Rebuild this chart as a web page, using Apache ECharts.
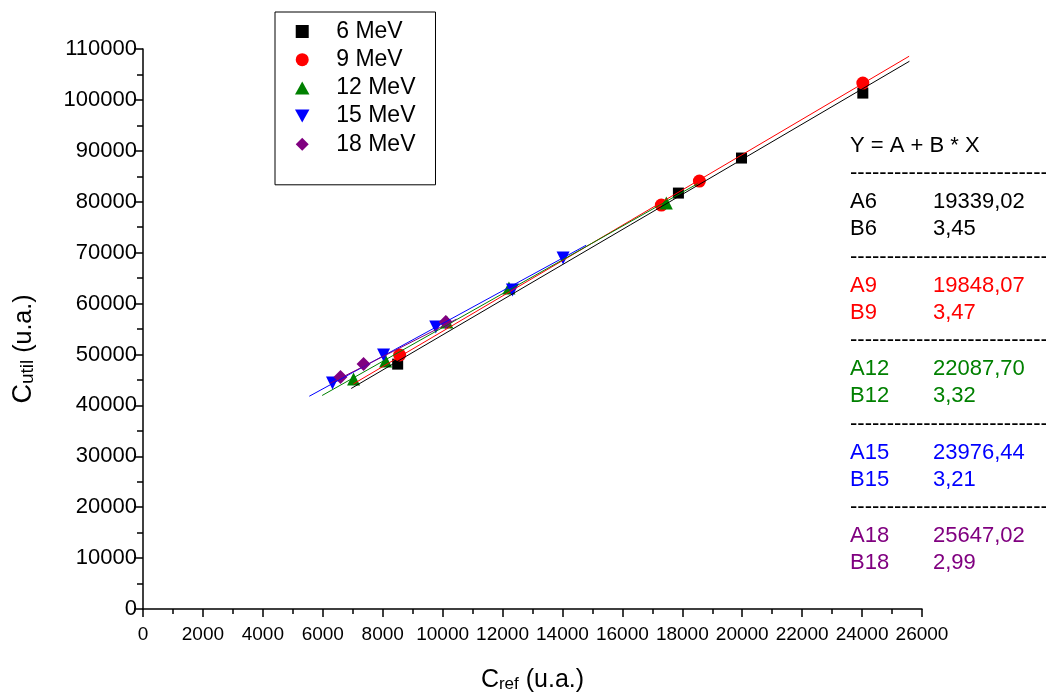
<!DOCTYPE html>
<html>
<head>
<meta charset="utf-8">
<script src="https://cdn.jsdelivr.net/npm/echarts@6/dist/echarts.min.js"></script>
<style>
html,body{margin:0;padding:0;background:#fff;}
#chart{width:1046px;height:692px;}
</style>
</head>
<body>
<div id="chart"></div>
<script>
// ---- data ----
const seriesNames = ['6 MeV', '9 MeV', '12 MeV', '15 MeV', '18 MeV'];
const seriesColors = ['#000000', '#ff0000', '#008000', '#0000ff', '#800080'];
const data6  = [[8500, 48100], [17870, 81700], [19975, 88580], [24025, 101340]];
const data9  = [[8566, 49890], [17300, 79350], [18570, 84060], [24025, 103300]];
const data12 = [[7027, 45170], [8097, 48710], [10140, 56370], [12213, 63040], [17466, 79740]];
const data15 = [[6324, 44390], [8030, 49890], [9770, 55390], [12330, 62650], [14020, 68940]];
const data18 = [[6592, 45570], [7361, 48120], [10105, 56370]];
// fit coefficients as printed on the chart
const fitA = [19339.02, 19848.07, 22087.70, 23976.44, 25647.02];
const fitB = [3.45, 3.47, 3.32, 3.21, 2.99];
const fitALabels = ['19339,02', '19848,07', '22087,70', '23976,44', '25647,02'];
const fitBLabels = ['3,45', '3,47', '3,32', '3,21', '2,99'];
const fitTags = ['6', '9', '12', '15', '18'];
// x-range over which each fit line is drawn
const fitRanges = [[6950, 25580], [7020, 25570], [5980, 18510], [5550, 14790], [6240, 10460]];
const xTicks = { min: 0, max: 26000, interval: 2000 };
const yTicks = { min: 0, max: 110000, interval: 10000 };

const allData = [data6, data9, data12, data15, data18];
const symbols = ['rect', 'circle', 'triangle', 'triangle', 'diamond'];
const symbolRot = [0, 0, 0, 180, 0];
const symbolSizes = [11, 13, 13, 13, 14];
const legendIcons = [
  'path://M0,0 L10,0 L10,10 L0,10 Z',
  'path://M5,0 A5,5 0 1,1 5,10 A5,5 0 1,1 5,0 Z',
  'path://M5,0 L10,9 L0,9 Z',
  'path://M0,0 L10,0 L5,9 Z',
  'path://M5,0 L10,5 L5,10 L0,5 Z'
];

const chart = echarts.init(document.getElementById('chart'), null, { renderer: 'canvas' });

const series = [];
allData.forEach((d, i) => {
  series.push({
    name: seriesNames[i],
    type: 'scatter',
    data: d,
    symbol: symbols[i],
    symbolRotate: symbolRot[i],
    symbolSize: symbolSizes[i],
    itemStyle: { color: seriesColors[i], opacity: 1 },
    z: 2,
    emphasis: { disabled: true }
  });
});
fitRanges.forEach((r, i) => {
  series.push({
    name: 'fit' + fitTags[i],
    type: 'line',
    data: r.map(x => [x, fitA[i] + fitB[i] * x]),
    showSymbol: false,
    symbol: 'none',
    lineStyle: { color: seriesColors[i], width: 1 },
    z: 3,
    silent: true
  });
});

const baseFont = '"Liberation Sans", Arial, sans-serif';

// annotation block (right side)
const graphics = [];
const annX = 850, valX = 933;
const annFont = '22px ' + baseFont;
graphics.push({ type: 'text', left: annX, top: 135, style: { text: 'Y = A + B * X', font: annFont, fill: '#000' } });
const dashStr = '--------------------------------';
let y0 = 162;
for (let i = 0; i < 5; i++) {
  const top = y0 + i * 83.6;
  graphics.push({ type: 'text', left: annX, top: top, style: { text: dashStr, font: annFont, fill: '#000' } });
  graphics.push({ type: 'text', left: annX, top: top + 29, style: { text: 'A' + fitTags[i], font: annFont, fill: seriesColors[i] } });
  graphics.push({ type: 'text', left: valX, top: top + 29, style: { text: fitALabels[i], font: annFont, fill: seriesColors[i] } });
  graphics.push({ type: 'text', left: annX, top: top + 56, style: { text: 'B' + fitTags[i], font: annFont, fill: seriesColors[i] } });
  graphics.push({ type: 'text', left: valX, top: top + 56, style: { text: fitBLabels[i], font: annFont, fill: seriesColors[i] } });
}

const option = {
  backgroundColor: '#ffffff',
  animation: false,
  grid: { left: 143, right: 124, top: 49, bottom: 83, containLabel: false, outerBoundsMode: 'none' },
  legend: {
    left: 275, top: 12,
    orient: 'vertical',
    borderColor: '#000', borderWidth: 1,
    padding: [8, 20, 29, 20],
    itemWidth: 58, itemHeight: 13, itemGap: 5.2,
    textStyle: { fontSize: 23, fontFamily: baseFont, color: '#000', lineHeight: 20 },
    data: seriesNames.map((n, i) => ({ name: n, icon: legendIcons[i], itemStyle: { color: seriesColors[i] } })),
    selectedMode: false
  },
  xAxis: {
    type: 'value',
    min: xTicks.min, max: xTicks.max, interval: xTicks.interval,
    name: '{big|C}{small|ref}{big| (u.a.)}',
    nameLocation: 'middle', nameGap: 57,
    nameTextStyle: {
      rich: {
        big: { fontSize: 25, fontFamily: baseFont, color: '#000', lineHeight: 27, verticalAlign: 'bottom' },
        small: { fontSize: 17, fontFamily: baseFont, color: '#000', lineHeight: 19, verticalAlign: 'bottom' }
      }
    },
    axisLine: { show: true, onZero: false, lineStyle: { color: '#000', width: 1.5 } },
    axisTick: { show: true, inside: false, length: 8, lineStyle: { color: '#000', width: 1.5 } },
    minorTick: { show: true, splitNumber: 2, length: 5, lineStyle: { color: '#000', width: 1.5 } },
    splitLine: { show: false },
    axisLabel: {
      margin: 16, fontSize: 19, fontFamily: baseFont, color: '#000',
      interval: 0, hideOverlap: false, showMinLabel: true, showMaxLabel: true,
      formatter: v => String(v)
    }
  },
  yAxis: {
    type: 'value',
    min: yTicks.min, max: yTicks.max, interval: yTicks.interval,
    name: '{big|C}{small|util}{mid| (u.a.)}',
    nameLocation: 'middle', nameGap: 106, nameRotate: 90,
    nameTextStyle: {
      padding: [0, 40, 0, 0],
      rich: {
        big: { fontSize: 27, fontFamily: baseFont, color: '#000', lineHeight: 29, verticalAlign: 'bottom' },
        small: { fontSize: 19, fontFamily: baseFont, color: '#000', lineHeight: 21, verticalAlign: 'bottom' },
        mid: { fontSize: 25, fontFamily: baseFont, color: '#000', lineHeight: 27, verticalAlign: 'bottom' }
      }
    },
    axisLine: { show: true, onZero: false, lineStyle: { color: '#000', width: 1.5 } },
    axisTick: { show: true, inside: false, length: 9, lineStyle: { color: '#000', width: 1.5 } },
    minorTick: { show: true, splitNumber: 2, length: 6, lineStyle: { color: '#000', width: 1.5 } },
    splitLine: { show: false },
    axisLabel: { margin: 6, fontSize: 22, fontFamily: baseFont, color: '#000', formatter: v => String(v) }
  },
  graphic: graphics,
  series: series
};
chart.setOption(option);
</script>
</body>
</html>
